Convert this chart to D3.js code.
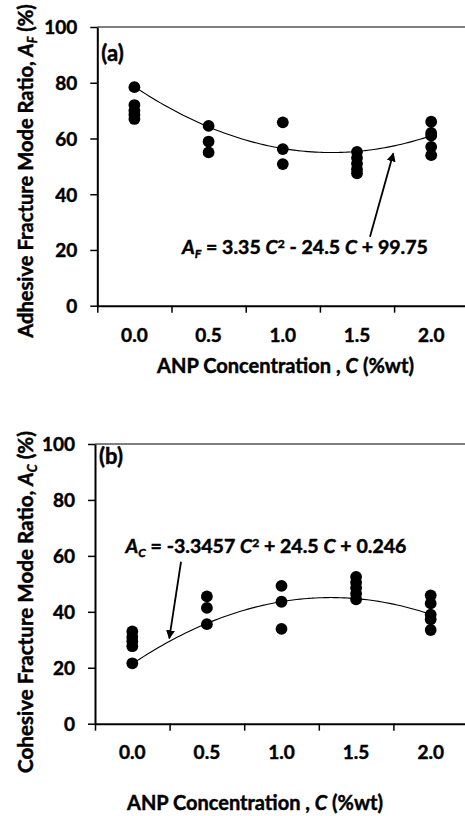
<!DOCTYPE html>
<html>
<head>
<meta charset="utf-8">
<script src="https://cdn.jsdelivr.net/npm/d3@7"></script>
<style>
  html, body { margin: 0; padding: 0; background: #fff; }
  svg { display: block; }
  text { font-family: Lato, "Open Sans", sans-serif; font-weight: bold; fill: #000;
         stroke: #000; stroke-width: 0.45px; }
</style>
</head>
<body>
<script>
// ---------- data ----------
const categories = ["0.0", "0.5", "1.0", "1.5", "2.0"];
const yTicks = [0, 20, 40, 60, 80, 100];

// measured ratios (%) for each concentration
const adhesiveValues = [
  [78.4, 72.0, 70.0, 68.5, 67.0],
  [64.5, 58.9, 55.0],
  [65.8, 56.2, 50.8],
  [55.2, 53.0, 51.0, 49.0, 47.5],
  [66.0, 62.0, 61.0, 57.0, 54.0]
];
const cohesiveValues = [
  [33.0, 31.0, 29.5, 27.7, 21.6],
  [45.5, 41.4, 35.6],
  [49.3, 43.6, 33.9],
  [52.5, 50.5, 48.5, 46.5, 44.5],
  [45.9, 43.0, 39.0, 37.3, 33.5]
];
// quadratic trendline coefficients [a, b, c] (category index 1..5)
const adhesiveFit = [3.35, -24.5, 99.75];
const cohesiveFit = [-3.3457, 24.5, 0.246];

// annotation arrows: [tailIndex, tailValue, tipIndex, tipValue]
const adhesiveArrow = [4.175, 24.7, 4.49, 54.7];
const cohesiveArrow = [1.653, 57.9, 1.496, 30.5];

const adhesiveEq = ["3.35", "- 24.5", "+ 99.75"];
const cohesiveEq = ["-3.3457", "+ 24.5", "+ 0.246"];

// ---------- layout ----------
const W = 465, H = 816;
const svg = d3.select("body").append("svg").attr("width", W).attr("height", H);

const defs = svg.append("defs");
defs.append("marker")
  .attr("id", "arrow").attr("viewBox", "0 0 10 10")
  .attr("refX", 9).attr("refY", 5)
  .attr("markerWidth", 5).attr("markerHeight", 5)
  .attr("markerUnits", "strokeWidth")
  .attr("orient", "auto")
  .append("path").attr("d", "M0,0 L10,5 L0,10 z").attr("fill", "#000");

function fit(sel, target) {
  const base = parseFloat(sel.style("font-size"));
  const w = sel.node().getComputedTextLength();
  sel.style("font-size", (base * target / w) + "px");
}

const panels = [
  {
    values: adhesiveValues, fit: adhesiveFit, arrow: adhesiveArrow, eq: adhesiveEq,
    sub: "F", label: "(a)", ytitle: "Adhesive Fracture Mode Ratio, ",
    left: 97.3, right: 468.3, top: 27, bottom: 305.7,
    eqX: 305, eqY: 254, eqW: 246, labelY: 61,
    xTickY: 342, xTitleX: 285.5, xTitleY: 373, xTitleW: 257,
    yTitleX: 33, yTitleY: 171, yTitleW: 334
  },
  {
    values: cohesiveValues, fit: cohesiveFit, arrow: cohesiveArrow, eq: cohesiveEq,
    sub: "C", label: "(b)", ytitle: "Cohesive Fracture Mode Ratio, ",
    left: 95, right: 468, top: 444, bottom: 723.7,
    eqX: 266, eqY: 553, eqW: 281, labelY: 464,
    xTickY: 759, xTitleX: 255, xTitleY: 810, xTitleW: 256,
    yTitleX: 33, yTitleY: 602, yTitleW: 342
  }
];

panels.forEach(p => {
  const g = svg.append("g");
  const x = d3.scaleLinear().domain([0.5, categories.length + 0.5]).range([p.left, p.right]);
  const y = d3.scaleLinear().domain([0, 100]).range([p.bottom, p.top]);

  // top border of plot area
  g.append("line")
    .attr("x1", x(0.5)).attr("x2", x(categories.length + 0.5))
    .attr("y1", y(100)).attr("y2", y(100))
    .attr("stroke", "#000").attr("stroke-width", 1.2);

  // x axis
  const boundaries = d3.range(categories.length + 1).map(i => i + 0.5);
  const xAxis = g.append("g").attr("transform", `translate(0,${y(0)})`)
    .call(d3.axisBottom(x).tickValues(boundaries).tickFormat("").tickSize(7).tickSizeOuter(0));
  xAxis.select(".domain").attr("stroke-width", 2);
  xAxis.selectAll(".tick line").attr("stroke-width", 1.5);

  // y axis
  const yAxis = g.append("g").attr("transform", `translate(${x(0.5)},0)`)
    .call(d3.axisLeft(y).tickValues(yTicks).tickSize(7).tickSizeOuter(0).tickPadding(13));
  yAxis.select(".domain").attr("stroke-width", 2);
  yAxis.selectAll(".tick line").attr("stroke-width", 1.5);
  yAxis.selectAll(".tick text")
    .style("font-family", "Lato, sans-serif").style("font-weight", "bold")
    .style("font-size", "19px").attr("fill", "#000").attr("dy", "0.36em");

  // x tick labels
  g.selectAll(".xlab").data(categories).enter().append("text")
    .attr("x", (d, i) => x(i + 1)).attr("y", p.xTickY)
    .attr("text-anchor", "middle").style("font-size", "19px").text(d => d);

  // trendline
  const [a, b, c] = p.fit;
  const pts = d3.range(1, categories.length + 0.001, 0.05).map(t => [t, a * t * t + b * t + c]);
  g.append("path")
    .attr("d", d3.line().x(d => x(d[0])).y(d => y(d[1])).curve(d3.curveBasis)(pts))
    .attr("fill", "none").attr("stroke", "#000").attr("stroke-width", 1.1);

  // points
  p.values.forEach((vals, i) => {
    g.selectAll(null).data(vals).enter().append("circle")
      .attr("cx", x(i + 1)).attr("cy", d => y(d)).attr("r", 5.9).attr("fill", "#000");
  });

  // arrow
  const [tx, tv, hx, hv] = p.arrow;
  g.append("line")
    .attr("x1", x(tx)).attr("y1", y(tv)).attr("x2", x(hx)).attr("y2", y(hv))
    .attr("stroke", "#000").attr("stroke-width", 1.8).attr("marker-end", "url(#arrow)");

  // equation
  const eq = g.append("text").attr("x", p.eqX).attr("y", p.eqY)
    .attr("text-anchor", "middle").style("font-size", "18px");
  eq.append("tspan").style("font-style", "italic").text("A");
  eq.append("tspan").style("font-style", "italic").style("font-size", "0.62em").attr("dy", "0.35em").text(p.sub);
  eq.append("tspan").attr("dy", "-0.22em").text(" = " + p.eq[0] + " ");
  eq.append("tspan").style("font-style", "italic").text("C");
  eq.append("tspan").style("font-size", "0.62em").attr("dy", "-0.5em").text("2");
  eq.append("tspan").attr("dy", "0.31em").text(" " + p.eq[1] + " ");
  eq.append("tspan").style("font-style", "italic").text("C");
  eq.append("tspan").text(" " + p.eq[2]);
  fit(eq, p.eqW);

  // panel label
  g.append("text").attr("x", x(0.5) + 4).attr("y", p.labelY)
    .style("font-size", "22px").text(p.label);

  // x title
  const xt = g.append("text").attr("x", p.xTitleX).attr("y", p.xTitleY)
    .attr("text-anchor", "middle").style("font-size", "19px");
  xt.append("tspan").text("ANP Concentration , ");
  xt.append("tspan").style("font-style", "italic").text("C");
  xt.append("tspan").text(" (%wt)");
  fit(xt, p.xTitleW);

  // y title
  const yt = g.append("text")
    .attr("transform", `translate(${p.yTitleX},${p.yTitleY}) rotate(-90)`)
    .attr("text-anchor", "middle").style("font-size", "19px");
  yt.append("tspan").text(p.ytitle);
  yt.append("tspan").style("font-style", "italic").text("A");
  yt.append("tspan").style("font-style", "italic").style("font-size", "0.62em").attr("dy", "0.35em").text(p.sub);
  yt.append("tspan").attr("dy", "-0.22em").text(" (%)");
  fit(yt, p.yTitleW);
});
</script>
</body>
</html>
